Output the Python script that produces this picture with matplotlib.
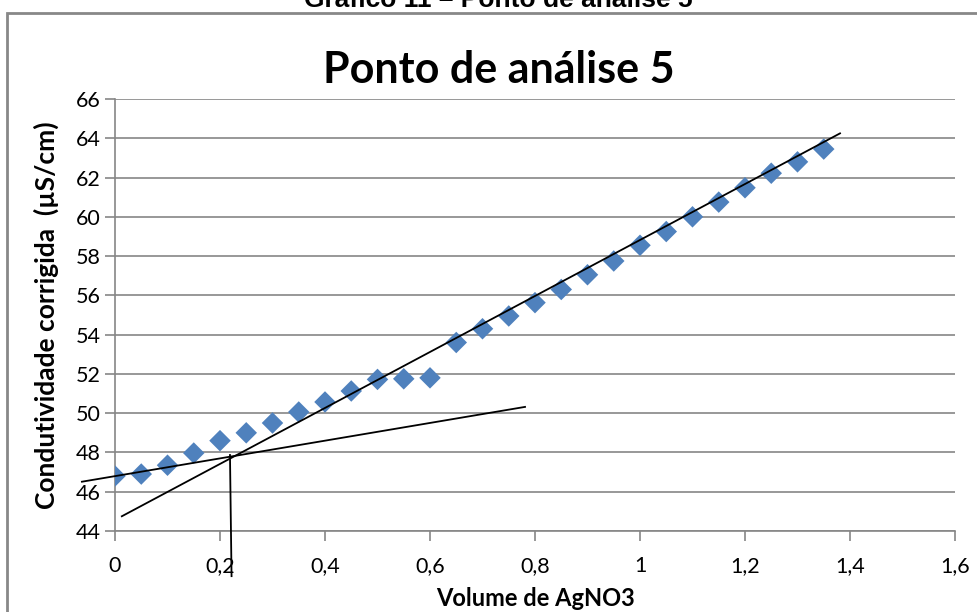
import matplotlib.pyplot as plt
from matplotlib.ticker import FuncFormatter
from matplotlib.patches import Rectangle

# leituras do gráfico
volume = [0, 0.05, 0.1, 0.15, 0.2, 0.25, 0.3, 0.35, 0.4, 0.45, 0.5, 0.55, 0.6,
          0.65, 0.7, 0.75, 0.8, 0.85, 0.9, 0.95, 1.0, 1.05, 1.1, 1.15, 1.2,
          1.25, 1.3, 1.35]
condutividade = [46.8, 46.9, 47.35, 47.97, 48.6, 49.0, 49.5, 50.06, 50.57, 51.13,
                 51.72, 51.75, 51.8, 53.6, 54.3, 54.95, 55.63, 56.3, 57.05, 57.75,
                 58.55, 59.25, 60.0, 60.75, 61.48, 62.22, 62.8, 63.45]

# retas desenhadas à mão (x, y)
reta_sup_x = [0.013, 1.381]
reta_sup_y = [44.75, 64.25]
reta_inf_x = [-0.063, 0.781]
reta_inf_y = [46.51, 50.32]
vertical_x = [0.219, 0.222]
vertical_y = [47.87, 41.7]

plt.rcParams['font.family'] = ['Lato', 'DejaVu Sans']

fig = plt.figure(figsize=(9.78, 6.12), dpi=100)
ax = fig.add_axes([115 / 978, 81 / 612, 840 / 978, 432 / 612])

# moldura externa
fig.patches.append(Rectangle((7 / 978, -0.1), 1.1, 1.1 - 13 / 612,
                             transform=fig.transFigure, fill=False,
                             ec='#888888', lw=2))

fig.text(498 / 978, 1 - 7 / 612, 'Gráfico 11 – Ponto de análise 5', ha='center',
         va='baseline', fontsize=19, fontweight='bold', family='Liberation Sans')

ax.scatter(volume, condutividade, marker='D', s=120, color='#4F81BD', zorder=3,
           edgecolors='none')

for xs, ys in [(reta_sup_x, reta_sup_y), (reta_inf_x, reta_inf_y),
               (vertical_x, vertical_y)]:
    ax.plot(xs, ys, color='black', lw=1.3, clip_on=False, zorder=4)

ax.set_xlim(0, 1.6)
ax.set_ylim(44, 66)
ax.set_xticks([0, 0.2, 0.4, 0.6, 0.8, 1.0, 1.2, 1.4, 1.6])
ax.set_yticks(range(44, 67, 2))
ax.xaxis.set_major_formatter(FuncFormatter(lambda v, p: f'{v:g}'.replace('.', ',')))
ax.grid(axis='y', color='#868686', lw=1.2)
ax.set_axisbelow(True)
for s in ['top', 'right']:
    ax.spines[s].set_visible(False)
for s in ['left', 'bottom']:
    ax.spines[s].set_color('#868686')
    ax.spines[s].set_linewidth(1.2)
ax.tick_params(colors='#868686', labelcolor='black', labelsize=15.5, length=7,
               width=1.2)
ax.tick_params(axis='x', pad=11)

fig.text(499 / 978, 1 - 70 / 612, 'Ponto de análise 5', ha='center', va='center',
         fontsize=31, fontweight='bold')
ax.set_xlabel('Volume de AgNO3', fontsize=17, fontweight='bold', labelpad=8)
ax.set_ylabel('Condutividade corrigida  (µS/cm)', fontsize=19, fontweight='bold',
              labelpad=12)

fig.savefig('out.png', dpi=100)
